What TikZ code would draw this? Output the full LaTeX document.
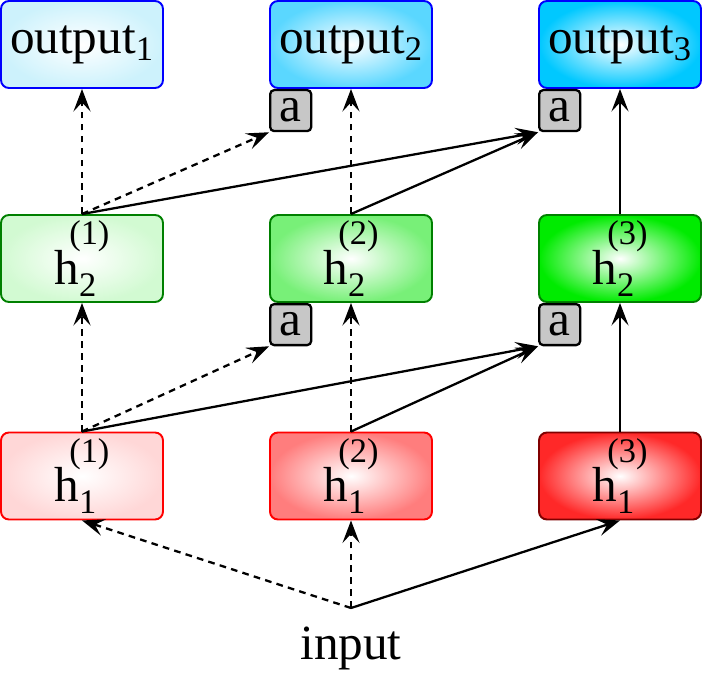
\documentclass[tikz,border=0pt]{standalone}
\usepackage{amsmath}
\usepackage{fontspec}
\setmainfont{Liberation Serif}
\usetikzlibrary{arrows.meta,positioning,calc}

\definecolor{outA}{RGB}{205,242,252}
\definecolor{outB}{RGB}{90,215,255}
\definecolor{outC}{RGB}{0,200,255}
\definecolor{hidA}{RGB}{210,250,210}
\definecolor{hidB}{RGB}{120,240,120}
\definecolor{hidC}{RGB}{0,235,0}
\definecolor{inA}{RGB}{255,215,215}
\definecolor{inB}{RGB}{255,125,125}
\definecolor{inC}{RGB}{255,40,40}

\newcommand{\smallscript}{\fontsize{19.6}{20}\selectfont}
\newcommand{\hlab}[2]{h\rlap{\raisebox{-0.24em}{\smallscript #1}}%
  \kern-0.2em\raisebox{0.8em}{\smallscript (#2)}}

\begin{document}
\begin{tikzpicture}[
    line width=1.3pt,
    font=\fontsize{28}{32}\selectfont,
    arr/.style={-{Stealth[length=4.5mm,width=3.4mm,inset=1.8mm]}},
    box/.style={rectangle, rounded corners=1.6mm, minimum width=3.24cm,
                minimum height=1.74cm, inner sep=0pt, line width=1.1pt,
                shading=radial, inner color=white},
    outbox/.style={box, draw=blue, outer color=#1},
    hidbox/.style={box, draw=green!50!black, outer color=#1},
    inbox/.style={box, draw=red, outer color=#1},
    abox/.style={rectangle, draw, fill=black!22, rounded corners=0.8mm,
                 minimum size=0.82cm, inner sep=0pt, anchor=north west},
    soft/.style={dash pattern=on 3.8pt off 3pt}
]
  \useasboundingbox (0,0) rectangle (14.04,-13.46);

  % nodes
  \node[outbox=outA] (o1) at (1.64,-0.89)  {output$_{\text{1}}$};
  \node[outbox=outB] (o2) at (7.02,-0.89)  {output$_{\text{2}}$};
  \node[outbox=outC] (o3) at (12.40,-0.89) {output$_{\text{3}}$};

  \node[hidbox=hidA] (h21) at (1.64,-5.17)  {\hlab{2}{1}};
  \node[hidbox=hidB] (h22) at (7.02,-5.17)  {\hlab{2}{2}};
  \node[hidbox=hidC] (h23) at (12.40,-5.17) {\hlab{2}{3}};

  \node[inbox=inA] (h11) at (1.64,-9.52)  {\hlab{1}{1}};
  \node[inbox=inB] (h12) at (7.02,-9.52)  {\hlab{1}{2}};
  \node[inbox=inC, draw=red!50!black] (h13) at (12.40,-9.52) {\hlab{1}{3}};

  \node[abox] (ao2) at (o2.south west)  {a};
  \node[abox] (ao3) at (o3.south west)  {a};
  \node[abox] (ah2) at (h22.south west) {a};
  \node[abox] (ah3) at (h23.south west) {a};

  \node[inner xsep=0pt, inner ysep=0.36cm, anchor=north] (in) at (7.02,-12.16) {input};

  % edges
  \draw[arr, soft] (in.north) -- (h11.south);
  \draw[arr, soft] (in.north) -- (h12.south);
  \draw[arr] (in.north) -- (h13.south);

  \draw[arr, soft] (h11.north) -- (h21.south);
  \draw[arr, soft] (h11.north) -- (ah2.south west);
  \draw[arr] (h11.north) -- (ah3.south west);
  \draw[arr, soft] (h12.north) -- (h22.south);
  \draw[arr] (h12.north) -- (ah3.south west);
  \draw[arr] (h13.north) -- (h23.south);

  \draw[arr, soft] (h21.north) -- (o1.south);
  \draw[arr, soft] (h21.north) -- (ao2.south west);
  \draw[arr] (h21.north) -- (ao3.south west);
  \draw[arr, soft] (h22.north) -- (o2.south);
  \draw[arr] (h22.north) -- (ao3.south west);
  \draw[arr] (h23.north) -- (o3.south);
\end{tikzpicture}
\end{document}
